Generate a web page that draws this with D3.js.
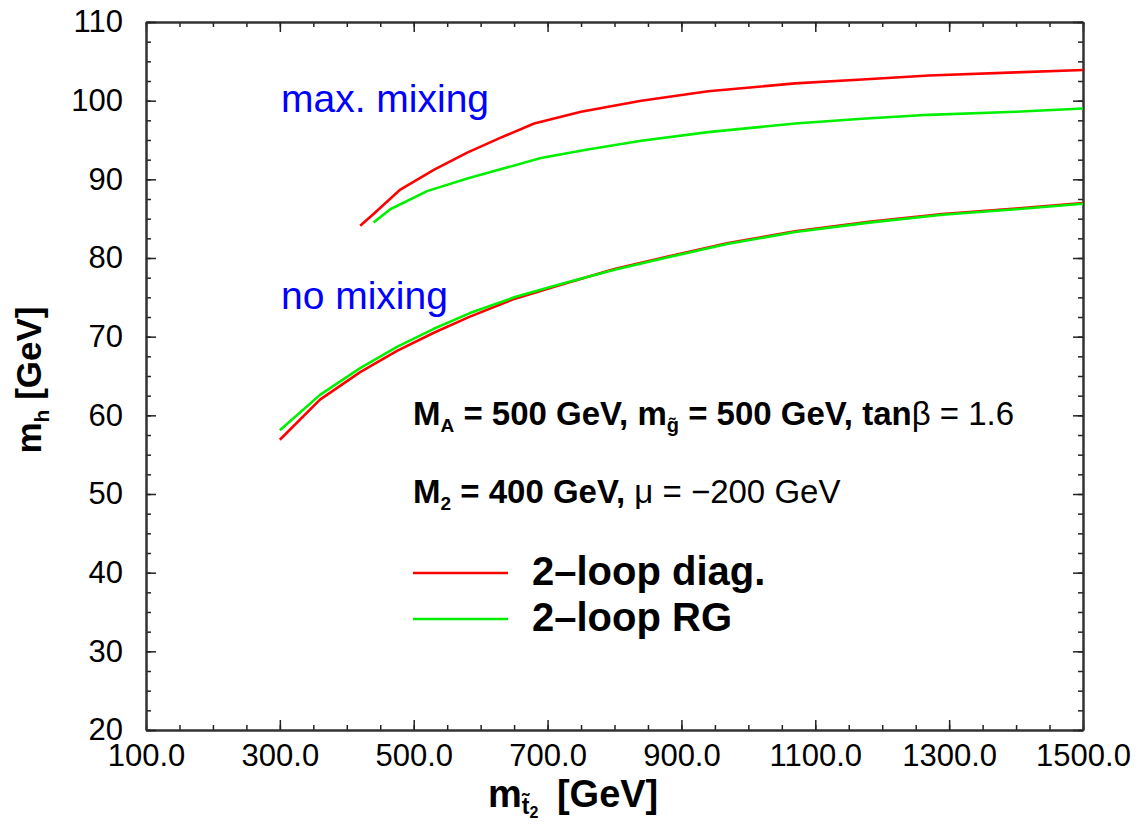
<!DOCTYPE html>
<html>
<head>
<meta charset="utf-8">
<script src="https://cdn.jsdelivr.net/npm/d3@7"></script>
<style>
  html, body { margin: 0; padding: 0; background: #fff; overflow: hidden; }
  svg { display: block; }
  text { font-family: "Liberation Sans", Arial, Helvetica, sans-serif; }
</style>
</head>
<body>
<div id="chart"></div>
<script>
const outerWidth = 1142;
const outerHeight = 827;
const margin = {top: 22, right: 59, bottom: 97, left: 146};
const innerWidth = outerWidth - margin.left - margin.right;
const innerHeight = outerHeight - margin.top - margin.bottom;

// m_stop2 [GeV] -> m_h [GeV]
const maxDiagX = [420, 440, 480, 530, 580, 630, 680, 750, 840, 940, 1070, 1170, 1270, 1400, 1500];
const maxDiagY = [84.1, 85.6, 88.7, 91.2, 93.4, 95.3, 97.1, 98.6, 100.0, 101.2, 102.2, 102.7, 103.2, 103.6, 103.9];
const maxRGX = [440, 465, 520, 580, 690, 760, 840, 940, 1070, 1170, 1270, 1400, 1500];
const maxRGY = [84.5, 86.2, 88.5, 90.1, 92.7, 93.8, 94.9, 96.0, 97.1, 97.7, 98.2, 98.6, 99.0];
const noDiagX = [300, 360, 420, 475, 530, 584, 650, 720, 800, 880, 970, 1070, 1180, 1290, 1400, 1500];
const noDiagY = [56.9, 62.0, 65.5, 68.2, 70.5, 72.55, 74.8, 76.6, 78.6, 80.2, 81.9, 83.4, 84.6, 85.6, 86.3, 87.0];
const noRGX = [300, 360, 420, 475, 530, 584, 650, 720, 800, 880, 970, 1070, 1180, 1290, 1400, 1500];
const noRGY = [58.1, 62.6, 66.0, 68.7, 71.0, 73.0, 75.0, 76.7, 78.5, 80.1, 81.8, 83.3, 84.5, 85.5, 86.2, 86.9];

const xMajor = [100, 300, 500, 700, 900, 1100, 1300, 1500];
const xMinor = d3.range(100, 1501, 50);
const yMajor = [20, 30, 40, 50, 60, 70, 80, 90, 100, 110];
const yMinor = d3.range(20, 110.1, 2.5);

const svg = d3.select("#chart").append("svg")
    .attr("width", outerWidth)
    .attr("height", outerHeight);

const g = svg.append("g")
    .attr("transform", `translate(${margin.left},${margin.top})`);

const x = d3.scaleLinear().domain([100, 1500]).range([0, innerWidth]);
const y = d3.scaleLinear().domain([20, 110]).range([innerHeight, 0]);

// ticks on all four sides, pointing inward
function styleAxis(sel) {
    sel.selectAll(".domain").attr("stroke", "#333").attr("stroke-width", 2);
    sel.selectAll(".tick line").attr("stroke", "#222").attr("stroke-width", 1.5);
}

g.append("g").attr("transform", `translate(0,${innerHeight})`)
    .call(d3.axisBottom(x).tickValues(xMinor).tickSize(-5).tickFormat("").tickSizeOuter(0))
    .call(styleAxis);
const xAxis = g.append("g").attr("transform", `translate(0,${innerHeight})`)
    .call(d3.axisBottom(x).tickValues(xMajor).tickSize(-10).tickPadding(14)
        .tickFormat(d3.format(".1f")).tickSizeOuter(0))
    .call(styleAxis);
xAxis.selectAll("text").attr("font-size", 31).attr("fill", "#000");

g.append("g")
    .call(d3.axisTop(x).tickValues(xMinor).tickSize(-5).tickFormat("").tickSizeOuter(0))
    .call(styleAxis);
g.append("g")
    .call(d3.axisTop(x).tickValues(xMajor).tickSize(-10).tickFormat("").tickSizeOuter(0))
    .call(styleAxis);

g.append("g")
    .call(d3.axisLeft(y).tickValues(yMinor).tickSize(-5).tickFormat("").tickSizeOuter(0))
    .call(styleAxis);
const yAxis = g.append("g")
    .call(d3.axisLeft(y).tickValues(yMajor).tickSize(-10).tickPadding(23).tickSizeOuter(0))
    .call(styleAxis);
yAxis.selectAll("text").attr("font-size", 31).attr("fill", "#000");

g.append("g").attr("transform", `translate(${innerWidth},0)`)
    .call(d3.axisRight(y).tickValues(yMinor).tickSize(-5).tickFormat("").tickSizeOuter(0))
    .call(styleAxis);
g.append("g").attr("transform", `translate(${innerWidth},0)`)
    .call(d3.axisRight(y).tickValues(yMajor).tickSize(-10).tickFormat("").tickSizeOuter(0))
    .call(styleAxis);

// curves
const line = d3.line().x(d => x(d[0])).y(d => y(d[1]));
const curves = [
    {xs: noDiagX, ys: noDiagY, color: "#ff0000"},
    {xs: noRGX, ys: noRGY, color: "#00f000"},
    {xs: maxDiagX, ys: maxDiagY, color: "#ff0000"},
    {xs: maxRGX, ys: maxRGY, color: "#00f000"}
];
g.selectAll(".curve")
    .data(curves)
    .join("path")
    .attr("class", "curve")
    .attr("fill", "none")
    .attr("stroke", d => d.color)
    .attr("stroke-width", 2.6)
    .attr("stroke-linejoin", "round")
    .attr("d", d => line(d3.zip(d.xs, d.ys)));

// labels, in page coordinates
function label(px, py, size) {
    return svg.append("text")
        .attr("x", px).attr("y", py)
        .attr("font-size", size);
}

label(281, 112, 39).attr("fill", "#0000ff").text("max. mixing");
label(281, 309, 39).attr("fill", "#0000ff").text("no mixing");

// parameter text
const p1 = label(413, 425, 33).attr("font-weight", "bold");
p1.append("tspan").text("M");
p1.append("tspan").attr("font-size", 19).attr("dy", 7).text("A");
p1.append("tspan").attr("dy", -7).text(" = 500 GeV, m");
p1.append("tspan").attr("font-size", 20).attr("dy", 7).text("g\u0303");
p1.append("tspan").attr("dy", -7).text(" = 500 GeV, tan");
p1.append("tspan").attr("font-weight", "normal").text("\u03b2 = 1.6");

const p2 = label(413, 503, 33).attr("font-weight", "bold");
p2.append("tspan").text("M");
p2.append("tspan").attr("font-size", 19).attr("dy", 7).text("2");
p2.append("tspan").attr("dy", -7).text(" = 400 GeV, ");
p2.append("tspan").attr("font-weight", "normal").text("\u03bc = \u2212200 GeV");

// legend
const legendNames = ["2\u2013loop diag.", "2\u2013loop RG"];
const legendColors = ["#ff0000", "#00f000"];
legendNames.forEach((name, i) => {
    const ly = 573 + i * 46;
    svg.append("line")
        .attr("x1", 413).attr("x2", 508)
        .attr("y1", ly).attr("y2", ly)
        .attr("stroke", legendColors[i])
        .attr("stroke-width", 2.6);
    label(532, ly + 12, 40).attr("font-weight", "bold").text(name);
});

// axis titles
const yt = svg.append("text")
    .attr("transform", "translate(41,380) rotate(-90)")
    .attr("text-anchor", "middle")
    .attr("font-size", 35)
    .attr("font-weight", "bold");
yt.append("tspan").text("m");
yt.append("tspan").attr("font-size", 21).attr("dy", 8).text("h");
yt.append("tspan").attr("dy", -8).text(" [GeV]");

const xt = label(488, 807, 38).attr("font-weight", "bold");
xt.append("tspan").text("m");
xt.append("tspan").attr("font-size", 23).attr("dy", 7).text("t\u0303");
xt.append("tspan").attr("font-size", 16).attr("dy", 4).text("2");
xt.append("tspan").attr("dy", -11).attr("dx", 8).text(" [GeV]");
</script>
</body>
</html>
